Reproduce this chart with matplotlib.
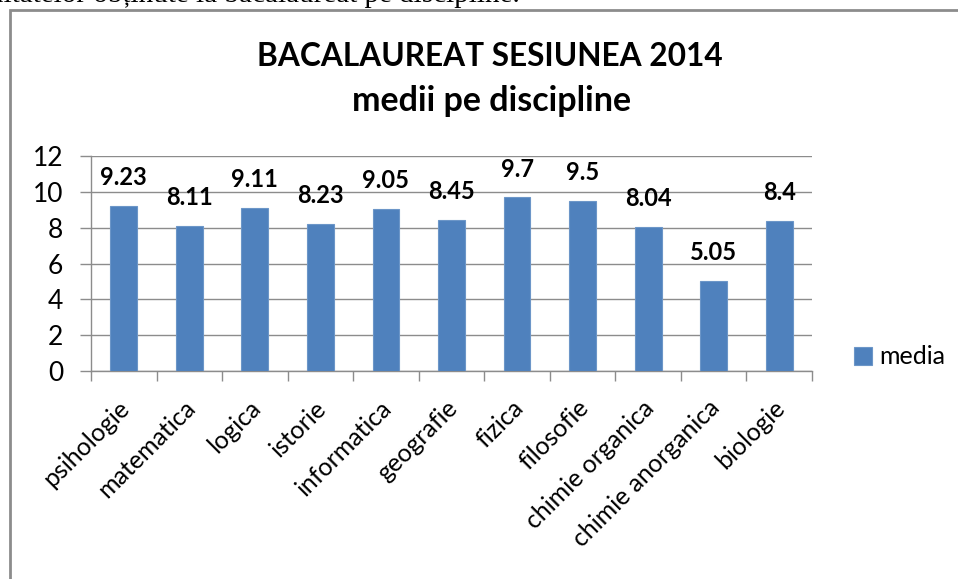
import numpy as np
import matplotlib
matplotlib.use("Agg")
import matplotlib.pyplot as plt
import matplotlib.transforms as mtransforms
from matplotlib.patches import Rectangle

# data
discipline = ["psihologie", "matematica", "logica", "istorie", "informatica",
              "geografie", "fizica", "filosofie", "chimie organica",
              "chimie anorganica", "biologie"]
media = [9.23, 8.11, 9.11, 8.23, 9.05, 8.45, 9.7, 9.5, 8.04, 5.05, 8.4]
value_labels = ["9.23", "8.11", "9.11", "8.23", "9.05", "8.45", "9.7", "9.5",
                "8.04", "5.05", "8.4"]
yticks = [0, 2, 4, 6, 8, 10, 12]

W, H = 958, 579
plt.rcParams['font.family'] = ['Lato', 'DejaVu Sans']

fig = plt.figure(figsize=(W / 100, H / 100), dpi=100)

# page fragment: cut-off sentence above the chart and the chart frame
fig.text(520 / W, 1 - 2 / H, "ultatelor obținute la bacalaureat pe discipline.",
         ha='right', va='baseline', fontsize=21, family='Liberation Serif')
fig.patches.append(Rectangle((10 / W, -0.1), 1.1, 1 - 10 / H + 0.1,
                             transform=fig.transFigure, fill=False,
                             edgecolor='#8c8c8c', linewidth=2))

ax = fig.add_axes([91 / W, 1 - 371 / H, (812 - 91) / W, (371 - 156) / H])
x = np.arange(len(discipline))
bars = ax.bar(x, media, width=0.41, color='#4f81bd', edgecolor='#6c96c8',
              linewidth=0.8, label='media', zorder=3)

for xi, v, lab in zip(x, media, value_labels):
    ax.annotate(lab, (xi, v), xytext=(0, 12), textcoords='offset points',
                ha='center', va='bottom', fontsize=17, fontweight='bold')

ax.set_xlim(-0.5, len(discipline) - 0.5)
ax.set_ylim(0, 12)
ax.set_yticks(yticks)
ax.set_yticklabels([str(t) for t in yticks], fontsize=19)
ax.yaxis.grid(True, color='#8c8c8c', linewidth=1)
ax.set_axisbelow(True)

ax.set_xticks(x)
ax.set_xticklabels(discipline, rotation=45, ha='right', rotation_mode='anchor',
                   fontsize=18)
ax.set_xticks(np.arange(len(discipline) + 1) - 0.5, minor=True)
ax.tick_params(axis='x', which='major', length=0, pad=18)
ax.tick_params(axis='x', which='minor', length=7, color='#8c8c8c', width=1)
ax.tick_params(axis='y', length=8, color='#8c8c8c', width=1, pad=12)

shift = mtransforms.ScaledTranslation(-6 / 100, 0, fig.dpi_scale_trans)
for lbl in ax.get_xticklabels():
    lbl.set_transform(lbl.get_transform() + shift)

for s in ['top', 'right']:
    ax.spines[s].set_visible(False)
for s in ['left', 'bottom']:
    ax.spines[s].set_color('#8c8c8c')
    ax.spines[s].set_linewidth(1)

fig.text(490 / W, 1 - 56 / H, "BACALAUREAT SESIUNEA 2014", ha='center',
         va='center', fontsize=22.8, fontweight='bold')
fig.text(492 / W, 1 - 101 / H, "medii pe discipline", ha='center',
         va='center', fontsize=24.5, fontweight='bold')

fig.legend(handles=[bars], labels=['media'], loc='center left',
           bbox_to_anchor=(854 / W, 1 - 357 / H), frameon=False, fontsize=18,
           handlelength=0.7, handleheight=0.7, handletextpad=0.3,
           borderaxespad=0, borderpad=0)

fig.savefig("out.png", dpi=100)
